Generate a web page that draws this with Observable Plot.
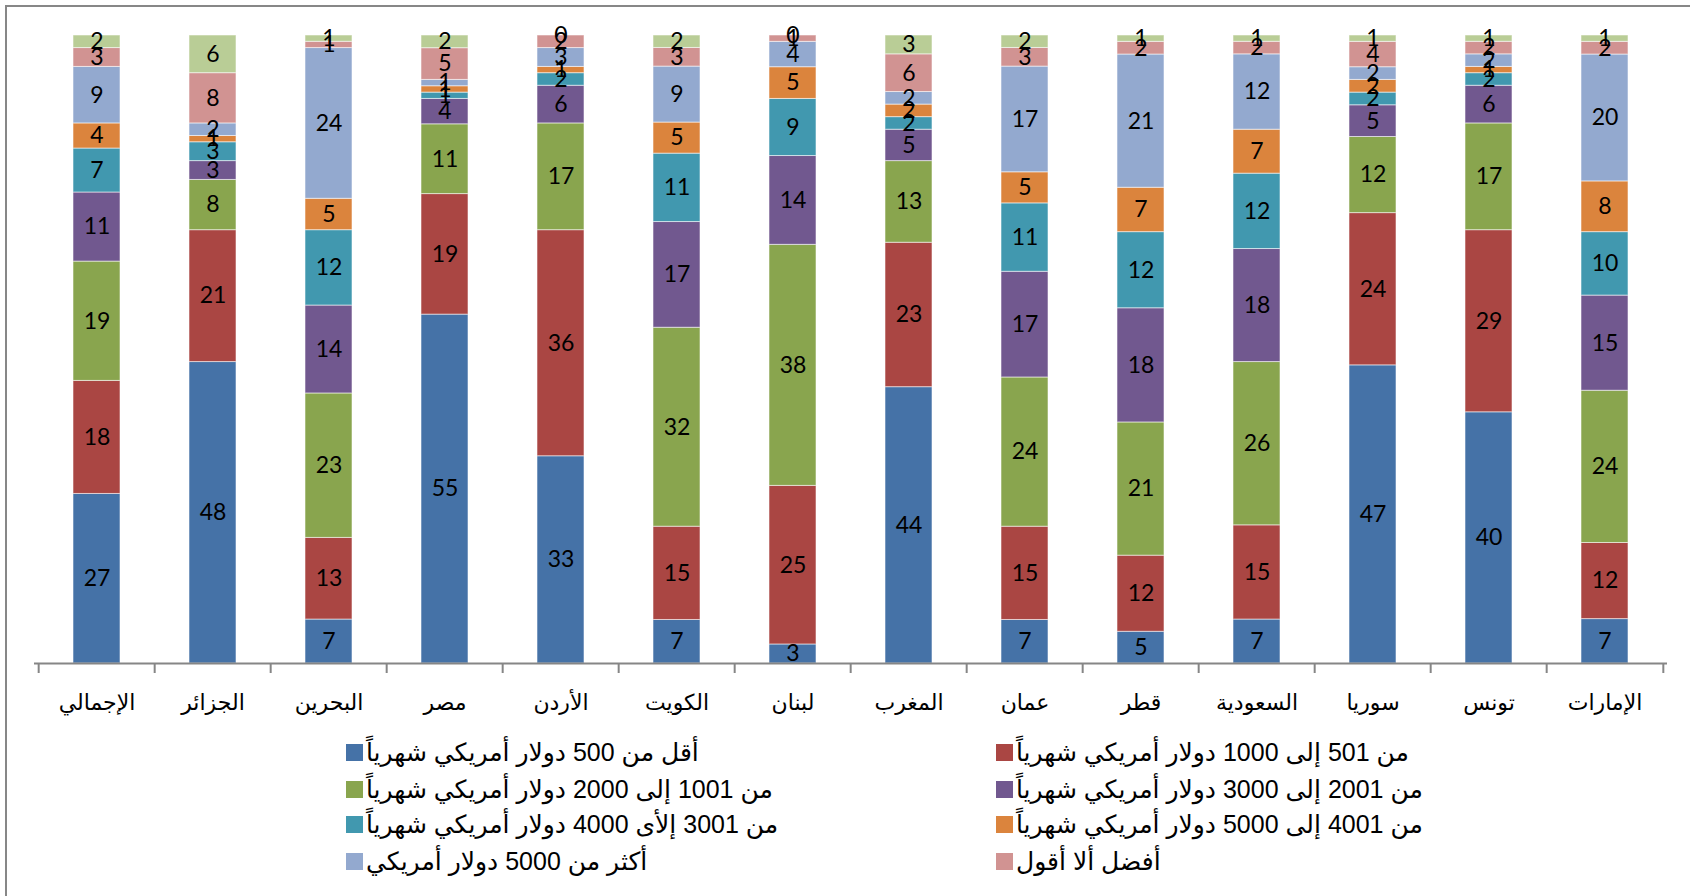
<!DOCTYPE html>
<html lang="ar">
<head>
<meta charset="utf-8">
<script src="https://cdn.jsdelivr.net/npm/d3@7"></script>
<script src="https://cdn.jsdelivr.net/npm/@observablehq/plot@0.6"></script>
<style>
  html, body { margin: 0; padding: 0; background: #fff; }
  #wrap { position: relative; width: 1690px; height: 896px; overflow: hidden; background: #fff; }
  #frame { position: absolute; left: 5px; top: 5px; width: 1720px; height: 920px;
           border-left: 2px solid #878787; border-top: 2px solid #878787; }
  #chart { position: absolute; left: 0; top: 0; }
  .item { position: absolute; height: 30px; display: flex; align-items: center; white-space: nowrap;
          font-family: "Liberation Sans", "DejaVu Sans", sans-serif; font-size: 25px; color: #000; }
  .sw { display: inline-block; width: 17px; height: 17px; margin-right: 3px; flex: none; }
  .lbl { unicode-bidi: isolate; direction: rtl; display: inline-block; transform-origin: left center; }
</style>
</head>
<body>
<div id="wrap">
  <div id="frame"></div>
  <div id="chart"></div>
  <div id="legend"></div>
</div>
<script>
// Categories (left to right)
const countries = ["الإجمالي", "الجزائر", "البحرين", "مصر", "الأردن", "الكويت", "لبنان", "المغرب", "عمان", "قطر", "السعودية", "سوريا", "تونس", "الإمارات"];

// Series names (bottom to top)
const seriesNames = [
  "أقل من 500 دولار أمريكي شهرياً",
  "من 501 إلى 1000 دولار أمريكي شهرياً",
  "من 1001 إلى 2000 دولار أمريكي شهرياً",
  "من 2001 إلى 3000 دولار أمريكي شهرياً",
  "من 3001 إلأى 4000 دولار أمريكي شهرياً",
  "من 4001 إلى 5000 دولار أمريكي شهرياً",
  "أكثر من 5000 دولار أمريكي",
  "أفضل ألا أقول",
  "لا أعرف"
];
const seriesColors = ["#4572A7", "#AA4643", "#89A54E", "#71588F", "#4198AF", "#DB843D", "#93A9CF", "#D19392", "#B9CD96"];

// Values (percent) per series, in country order
const lt500      = [27, 48, 7, 55, 33, 7, 3, 44, 7, 5, 7, 47, 40, 7];
const r501_1000  = [18, 21, 13, 19, 36, 15, 25, 23, 15, 12, 15, 24, 29, 12];
const r1001_2000 = [19, 8, 23, 11, 17, 32, 38, 13, 24, 21, 26, 12, 17, 24];
const r2001_3000 = [11, 3, 14, 4, 6, 17, 14, 5, 17, 18, 18, 5, 6, 15];
const r3001_4000 = [7, 3, 12, 1, 2, 11, 9, 2, 11, 12, 12, 2, 2, 10];
const r4001_5000 = [4, 1, 5, 1, 1, 5, 5, 2, 5, 7, 7, 2, 1, 8];
const gt5000     = [9, 2, 24, 1, 3, 9, 4, 2, 17, 21, 12, 2, 2, 20];
const preferNot  = [3, 8, 1, 5, 2, 3, 1, 6, 3, 2, 2, 4, 2, 2];
const dontKnow   = [2, 6, 1, 2, 0, 2, 0, 3, 2, 1, 1, 1, 1, 1];

const seriesValues = [lt500, r501_1000, r1001_2000, r2001_3000, r3001_4000, r4001_5000, gt5000, preferNot, dontKnow];
const legendSeries = 8; // last series has no legend entry

const rows = [];
seriesValues.forEach((vals, si) => {
  vals.forEach((v, ci) => rows.push({country: countries[ci], series: seriesNames[si], value: v}));
});

const W = 1690, H = 740, mL = 34, mR = 23, mT = 35, mB = 77;
const step = (W - mL - mR) / countries.length;
const labelFont = "Lato, 'Open Sans', sans-serif";
const catFont = "'Liberation Sans', 'DejaVu Sans', sans-serif";

const chart = Plot.plot({
  width: W, height: H,
  marginLeft: mL, marginRight: mR, marginTop: mT, marginBottom: mB,
  style: {fontFamily: catFont, fontSize: "21px", background: "transparent", color: "#000"},
  x: {domain: countries, paddingInner: 0.594, paddingOuter: 0.297, label: null},
  y: {domain: [0, 1], axis: null},
  color: {domain: seriesNames, range: seriesColors},
  marks: [
    Plot.barY(rows, Plot.stackY({offset: "normalize"}, {
      x: "country", y: "value", z: "series", fill: "series",
      stroke: "#ffffff", strokeOpacity: 0.55, strokeWidth: 1
    })),
    Plot.text(rows, Plot.stackY({offset: "normalize"}, {
      x: "country", y: "value", z: "series", text: d => String(d.value),
      fill: "#000", fontSize: 23, fontFamily: labelFont
    })),
    Plot.ruleY([0], {stroke: "#868686", strokeWidth: 2}),
    Plot.axisX({tickSize: 10, tickFormat: () => "", stroke: "#868686", strokeWidth: 2, dx: -step / 2, label: null}),
    Plot.axisX({ticks: [countries[countries.length - 1]], tickSize: 10, tickFormat: () => "", stroke: "#868686", strokeWidth: 2, dx: step / 2, label: null}),
    Plot.axisX({tickSize: 0, tickPadding: 31, fontSize: 22, fontFamily: catFont, fill: "#000", label: null})
  ]
});
document.getElementById("chart").appendChild(chart);

// Legend (two columns, four rows)
const legend = document.getElementById("legend");
const colX = [346, 996];
const rowY = [752, 789, 824, 861];
for (let i = 0; i < legendSeries; i++) {
  const col = i % 2, row = Math.floor(i / 2);
  const item = document.createElement("div");
  item.className = "item";
  item.style.left = colX[col] + "px";
  item.style.top = (rowY[row] - 15) + "px";
  const sw = document.createElement("span");
  sw.className = "sw";
  sw.style.background = seriesColors[i];
  const lb = document.createElement("span");
  lb.className = "lbl";
  lb.textContent = seriesNames[i];
  item.appendChild(sw);
  item.appendChild(lb);
  legend.appendChild(item);
}
</script>
</body>
</html>
